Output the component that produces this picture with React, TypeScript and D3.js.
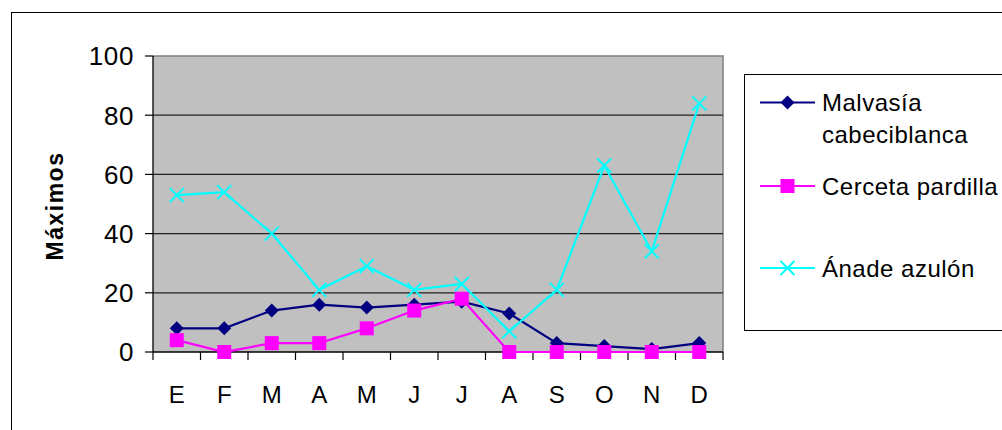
import React from "react";
import * as d3 from "d3";

// Monthly maxima of three duck species
const months = ["E", "F", "M", "A", "M", "J", "J", "A", "S", "O", "N", "D"];
const malvasia = [8, 8, 14, 16, 15, 16, 17, 13, 3, 2, 1, 3];
const cerceta = [4, 0, 3, 3, 8, 14, 18, 0, 0, 0, 0, 0];
const anade = [53, 54, 40, 21, 29, 21, 23, 7, 21, 63, 34, 84];
const yTicks = [0, 20, 40, 60, 80, 100];

const seriesNames = ["Malvasía cabeciblanca", "Cerceta pardilla", "Ánade azulón"];

const W = 1002;
const H = 430;
const plot = { left: 153, right: 723, top: 56, bottom: 352 };
const FONT = "'Liberation Sans', Arial, sans-serif";

type Marker = "diamond" | "square" | "cross";

function MarkerShape({ kind, x, y, color }: { kind: Marker; x: number; y: number; color: string }) {
  if (kind === "diamond") {
    const r = 7;
    return <path d={`M${x},${y - r}L${x + r},${y}L${x},${y + r}L${x - r},${y}Z`} fill={color} />;
  }
  if (kind === "square") {
    const s = 14;
    return <rect x={x - s / 2} y={y - s / 2} width={s} height={s} fill={color} />;
  }
  const r = 7;
  return (
    <path
      d={`M${x - r},${y - r}L${x + r},${y + r}M${x - r},${y + r}L${x + r},${y - r}`}
      stroke={color}
      strokeWidth={2}
      fill="none"
    />
  );
}

export default function App() {
  const x = d3
    .scaleBand<number>()
    .domain(months.map((_, i) => i))
    .range([plot.left, plot.right])
    .padding(0);
  const y = d3.scaleLinear().domain([0, 100]).range([plot.bottom, plot.top]);
  const cx = (i: number) => (x(i) as number) + x.bandwidth() / 2;

  const series: { name: string; values: number[]; color: string; marker: Marker }[] = [
    { name: seriesNames[0], values: malvasia, color: "#000080", marker: "diamond" },
    { name: seriesNames[1], values: cerceta, color: "#FF00FF", marker: "square" },
    { name: seriesNames[2], values: anade, color: "#00FFFF", marker: "cross" },
  ];

  const line = d3
    .line<number>()
    .x((_, i) => cx(i))
    .y((d) => y(d));

  const boundaries = d3.range(months.length + 1).map((i) =>
    i < months.length ? (x(i) as number) : plot.right
  );

  const legendX1 = 760;
  const legendX2 = 815;
  const legendTextX = 822;
  const legendRows = [
    { y: 102.5, lines: ["Malvasía", "cabeciblanca"] },
    { y: 186, lines: ["Cerceta pardilla"] },
    { y: 268, lines: ["Ánade azulón"] },
  ];

  return (
    <svg
      width={W}
      height={H}
      style={{ position: "absolute", left: 0, top: 0, background: "#fff" }}
      fontFamily={FONT}
    >
      {/* chart frame */}
      <rect x={11.5} y={12.5} width={1000} height={440} fill="#fff" stroke="#000" strokeWidth={1} />

      {/* plot background */}
      <rect
        x={plot.left}
        y={plot.top}
        width={plot.right - plot.left}
        height={plot.bottom - plot.top}
        fill="#C0C0C0"
      />
      {/* top and right edges of plot area */}
      <path
        d={`M${plot.left},${plot.top}H${plot.right}V${plot.bottom}`}
        fill="none"
        stroke="#808080"
        strokeWidth={1.5}
      />

      {/* gridlines */}
      {yTicks
        .filter((t) => t > 0 && t < 100)
        .map((t) => (
          <line
            key={`g${t}`}
            x1={plot.left}
            x2={plot.right}
            y1={y(t)}
            y2={y(t)}
            stroke="#222"
            strokeWidth={1.3}
          />
        ))}

      {/* y axis */}
      <line x1={plot.left} x2={plot.left} y1={plot.top} y2={plot.bottom} stroke="#000" strokeWidth={1.3} />
      {yTicks.map((t) => (
        <g key={`y${t}`}>
          <line x1={plot.left - 8} x2={plot.left} y1={y(t)} y2={y(t)} stroke="#000" strokeWidth={1.2} />
          <text
            x={134}
            y={y(t)}
            dy="0.36em"
            textAnchor="end"
            fontSize={26}
            letterSpacing={0.6}
            fill="#000"
          >
            {t}
          </text>
        </g>
      ))}

      {/* x axis */}
      <line x1={plot.left} x2={plot.right} y1={plot.bottom} y2={plot.bottom} stroke="#000" strokeWidth={1.3} />
      {boundaries.map((bx, i) => (
        <line key={`xt${i}`} x1={bx} x2={bx} y1={plot.bottom} y2={plot.bottom + 8} stroke="#000" strokeWidth={1.2} />
      ))}
      {months.map((m, i) => (
        <text key={`xl${i}`} x={cx(i)} y={403} textAnchor="middle" fontSize={24} fill="#000">
          {m}
        </text>
      ))}

      {/* y axis title */}
      <text
        transform={`translate(63,206) rotate(-90)`}
        textAnchor="middle"
        fontSize={23}
        fontWeight="bold"
        letterSpacing={1.5}
        fill="#000"
      >
        Máximos
      </text>

      {/* series */}
      {series.map((s) => (
        <g key={s.name}>
          <path d={line(s.values) as string} fill="none" stroke={s.color} strokeWidth={2.2} />
          {s.values.map((v, i) => (
            <MarkerShape key={i} kind={s.marker} x={cx(i)} y={y(v)} color={s.color} />
          ))}
        </g>
      ))}

      {/* legend */}
      <rect x={744.5} y={74.5} width={300} height={256} fill="#fff" stroke="#000" strokeWidth={1} />
      {series.map((s, k) => {
        const row = legendRows[k];
        return (
          <g key={`lg${k}`}>
            <line x1={legendX1} x2={legendX2} y1={row.y} y2={row.y} stroke={s.color} strokeWidth={2.2} />
            <MarkerShape kind={s.marker} x={(legendX1 + legendX2) / 2} y={row.y} color={s.color} />
            {row.lines.map((ln, j) => (
              <text
                key={j}
                x={legendTextX}
                y={row.y + j * 31.7}
                dy="0.36em"
                fontSize={24}
                letterSpacing={0.5}
                fill="#000"
              >
                {ln}
              </text>
            ))}
          </g>
        );
      })}
    </svg>
  );
}
